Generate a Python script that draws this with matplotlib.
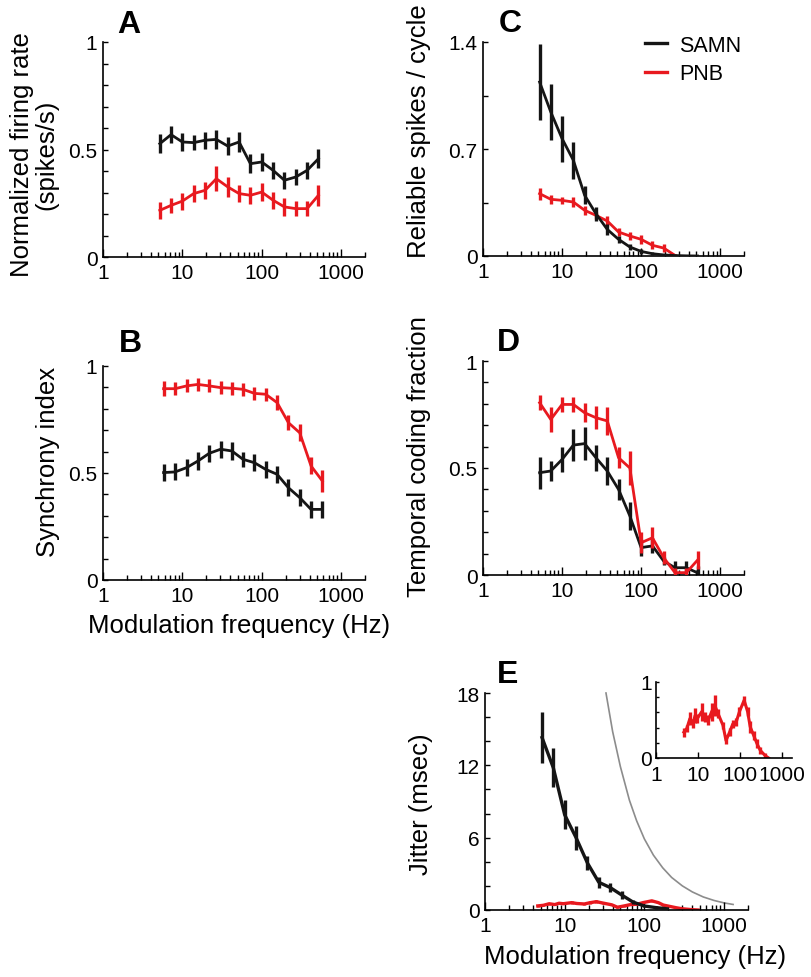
import matplotlib
matplotlib.use("Agg")
import matplotlib.pyplot as plt
import numpy as np
from matplotlib.ticker import FixedLocator, NullFormatter, LogLocator, FuncFormatter

plt.rcParams.update({"font.family": ["Liberation Sans", "DejaVu Sans"], "font.size": 15})

BLACK = "#151515"
RED = "#e8191f"
GRAY = "#8c8c8c"
nan = np.nan

# modulation frequencies (Hz)
freq = [5.2, 7.2, 10, 13.9, 19.3, 26.8, 37.3, 51.8, 72, 100, 139, 193, 268, 373, 518]
freq_b = [5.8, 8.1, 11.3, 15.7, 21.8, 30.3, 42, 58, 81, 112, 156, 217, 301, 418, 580]

# A: normalized firing rate
rate_samn = [0.527, 0.569, 0.535, 0.532, 0.543, 0.547, 0.516, 0.535, 0.434, 0.442, 0.403, 0.357, 0.372, 0.403, 0.457]
rate_samn_err = [0.043, 0.04, 0.04, 0.035, 0.04, 0.045, 0.04, 0.045, 0.045, 0.04, 0.04, 0.04, 0.035, 0.04, 0.045]
rate_pnb = [0.217, 0.240, 0.26, 0.295, 0.31, 0.364, 0.326, 0.295, 0.287, 0.302, 0.264, 0.233, 0.225, 0.225, 0.287]
rate_pnb_err = [0.04, 0.035, 0.04, 0.04, 0.04, 0.058, 0.045, 0.04, 0.04, 0.04, 0.04, 0.04, 0.035, 0.035, 0.05]

# B: synchrony index
sync_pnb = [0.894, 0.894, 0.907, 0.914, 0.907, 0.899, 0.896, 0.891, 0.872, 0.868, 0.829, 0.735, 0.688, 0.533, 0.463]
sync_pnb_err = [0.035, 0.03, 0.03, 0.03, 0.03, 0.03, 0.03, 0.03, 0.03, 0.03, 0.035, 0.035, 0.04, 0.04, 0.05]
sync_samn = [0.502, 0.505, 0.525, 0.556, 0.592, 0.611, 0.603, 0.564, 0.548, 0.517, 0.494, 0.431, 0.385, 0.330, 0.330]
sync_samn_err = [0.04, 0.04, 0.04, 0.04, 0.04, 0.04, 0.04, 0.035, 0.04, 0.04, 0.04, 0.04, 0.04, 0.04, 0.04]

# C: reliable spikes per cycle
rel_samn = [1.138, 0.942, 0.768, 0.626, 0.397, 0.277, 0.174, 0.109, 0.059, 0.03, 0.015, 0.007, 0.003, 0.001, 0.0]
rel_samn_err = [0.25, 0.185, 0.15, 0.12, 0.06, 0.045, 0.035, 0.025, 0.02, 0.015, 0.01, 0.005, 0, 0, 0]
rel_pnb = [0.408, 0.371, 0.364, 0.353, 0.299, 0.266, 0.229, 0.157, 0.131, 0.109, 0.07, 0.052, 0.004, nan, nan]
rel_pnb_err = [0.04, 0.03, 0.025, 0.03, 0.03, 0.025, 0.03, 0.025, 0.025, 0.03, 0.025, 0.025, 0.01, nan, nan]

# D: temporal coding fraction
tcf_pnb = [0.805, 0.727, 0.797, 0.797, 0.758, 0.735, 0.72, 0.548, 0.5, 0.151, 0.174, 0.081, 0.011, 0.011, 0.07]
tcf_pnb_err = [0.035, 0.058, 0.035, 0.035, 0.045, 0.055, 0.065, 0.05, 0.08, 0.05, 0.05, 0.03, 0.02, 0.02, 0.04]
tcf_samn = [0.478, 0.486, 0.54, 0.607, 0.614, 0.548, 0.486, 0.4, 0.276, 0.128, 0.136, 0.065, 0.034, 0.034, 0.01]
tcf_samn_err = [0.074, 0.045, 0.06, 0.074, 0.078, 0.06, 0.065, 0.05, 0.065, 0.04, 0.035, 0.02, 0.03, 0.03, 0.03]

# E: jitter (msec)
jit_samn = [14.3, 11.8, 7.9, 6.0, 3.9, 2.3, 1.86, 1.25, 0.66, 0.33, 0.2, 0.1, nan, nan, nan]
jit_samn_err = [2.1, 1.6, 1.2, 1.0, 0.6, 0.45, 0.35, 0.3, 0.2, 0.1, 0.1, 0.05, nan, nan, nan]
jit_freq_pnb = [4.6, 5.4, 6.4, 7.5, 8.5, 9.6, 12.2, 14.2, 17.6, 21, 25, 30, 39, 46, 56, 67, 80, 96,
                124, 150, 173, 208, 250, 300, 394, 473]
jit_pnb = [0.34, 0.39, 0.52, 0.45, 0.56, 0.52, 0.61, 0.54, 0.50, 0.61, 0.69, 0.58, 0.43, 0.23, 0.34,
           0.45, 0.47, 0.61, 0.76, 0.61, 0.41, 0.30, 0.19, 0.10, 0.03, 0.0]
jit_pnb_err = [0.06, 0.05, 0.09, 0.06, 0.1, 0.06, 0.12, 0.06, 0.06, 0.12, 0.14, 0.06, 0.05, 0.05, 0.05,
               0.05, 0.05, 0.06, 0.06, 0.06, 0.08, 0.06, 0.06, 0.05, 0.03, 0.0]
gray_f = [33, 40, 50, 65, 80, 100, 130, 170, 220, 300, 400, 550, 750, 1000, 1300]
gray_j = [18, 14.8, 11.9, 9.1, 7.4, 5.9, 4.55, 3.5, 2.7, 2.0, 1.5, 1.08, 0.79, 0.59, 0.46]

fig = plt.figure(figsize=(8.12, 9.78), dpi=100)


def px_axes(left, right, top, bottom):
    W, H = 812.0, 978.0
    return fig.add_axes([left / W, 1 - bottom / H, (right - left) / W, (bottom - top) / H])


def style(ax, ylim, yticks, ylabels, yminor, xmax=2000, fs=15):
    ax.set_xscale("log")
    ax.set_xlim(1, xmax)
    ax.set_ylim(*ylim)
    for s in ("top", "right"):
        ax.spines[s].set_visible(False)
    for s in ("left", "bottom"):
        ax.spines[s].set_linewidth(1.2)
    ax.xaxis.set_major_locator(FixedLocator([1, 10, 100, 1000]))
    ax.xaxis.set_major_formatter(FuncFormatter(lambda v, p: "%d" % round(v)))
    ax.xaxis.set_minor_locator(LogLocator(base=10, subs=np.arange(2, 10)))
    ax.xaxis.set_minor_formatter(NullFormatter())
    ax.set_yticks(yticks)
    ax.set_yticklabels(ylabels)
    ax.yaxis.set_minor_locator(FixedLocator(yminor))
    ax.tick_params(axis="both", which="both", direction="in", width=1.0, labelsize=fs, pad=4)
    ax.tick_params(axis="x", which="major", length=6)
    ax.tick_params(axis="x", which="minor", length=3.5)
    ax.tick_params(axis="y", which="both", length=3.5)


def eb(ax, x, y, e, color, z=2, lw=2.0):
    ax.errorbar(x, y, yerr=e, color=color, lw=lw, elinewidth=2.4, capsize=0, zorder=z)


tenths = [0.1, 0.2, 0.3, 0.4, 0.6, 0.7, 0.8, 0.9]

# A
axA = px_axes(103, 365, 43, 258)
style(axA, (0, 1), [0, 0.5, 1], ["0", "0.5", "1"], tenths)
eb(axA, freq, rate_samn, rate_samn_err, BLACK)
eb(axA, freq, rate_pnb, rate_pnb_err, RED)
axA.set_ylabel("Normalized firing rate\n(spikes/s)", fontsize=18.5, linespacing=1.0)
axA.yaxis.set_label_coords(-0.172, 0.48)

# B
axB = px_axes(103, 365, 367, 581)
style(axB, (0, 1), [0, 0.5, 1], ["0", "0.5", "1"], tenths)
eb(axB, freq_b, sync_samn, sync_samn_err, BLACK)
eb(axB, freq_b, sync_pnb, sync_pnb_err, RED)
axB.set_ylabel("Synchrony index", fontsize=18.5)
axB.yaxis.set_label_coords(-0.164, 0.556)
axB.set_xlabel("Modulation frequency (Hz)", fontsize=18.5)
axB.xaxis.set_label_coords(0.52, -0.155)

# C
axC = px_axes(483, 744, 43, 257)
style(axC, (0, 1.4), [0, 0.7, 1.4], ["0", "0.7", "1.4"], [0.35, 1.05])
eb(axC, freq, rel_pnb, rel_pnb_err, RED, z=2)
eb(axC, freq, rel_samn, rel_samn_err, BLACK, z=3)
axC.set_ylabel("Reliable spikes / cycle", fontsize=18.5)
axC.yaxis.set_label_coords(-0.199, 0.589)
hs = [plt.Line2D([], [], color=BLACK, lw=2.4), plt.Line2D([], [], color=RED, lw=2.4)]
axC.legend(hs, ["SAMN", "PNB"], loc="upper left", bbox_to_anchor=(0.62, 1.035), frameon=False,
           fontsize=15.5, handlelength=1.05, handletextpad=0.55, labelspacing=0.35,
           borderpad=0, borderaxespad=0)

# D
axD = px_axes(483, 744, 362, 576)
style(axD, (0, 1), [0, 0.5, 1], ["0", "0.5", "1"], tenths)
eb(axD, freq, tcf_samn, tcf_samn_err, BLACK)
eb(axD, freq, tcf_pnb, tcf_pnb_err, RED, z=3)
axD.set_ylabel("Temporal coding fraction", fontsize=18.5)
axD.yaxis.set_label_coords(-0.199, 0.556)

# E
axE = px_axes(485, 748, 694, 911)
style(axE, (0, 18), [0, 6, 12, 18], ["0", "6", "12", "18"], [2, 4, 8, 10, 14, 16])
axE.plot(gray_f, gray_j, color=GRAY, lw=1.2, zorder=1, clip_on=False)
eb(axE, jit_freq_pnb, jit_pnb, jit_pnb_err, RED, lw=2.4)
eb(axE, freq, jit_samn, jit_samn_err, BLACK, z=3, lw=2.4)
axE.set_ylabel("Jitter (msec)", fontsize=18.5)
axE.yaxis.set_label_coords(-0.198, 0.493)
axE.set_xlabel("Modulation frequency (Hz)", fontsize=18.5)
axE.xaxis.set_label_coords(0.57, -0.158)

# inset
axI = px_axes(656, 792, 683, 759)
style(axI, (0, 1), [0, 1], ["0", "1"], [0.2, 0.4, 0.6, 0.8], xmax=1700, fs=15)
axI.tick_params(axis="x", which="major", length=4, pad=5)
axI.tick_params(axis="x", which="minor", length=2.5)
axI.tick_params(axis="y", which="both", length=2.5, pad=3)
axI.patch.set_alpha(0)
eb(axI, jit_freq_pnb, jit_pnb, jit_pnb_err, RED, lw=2.2)

# panel letters
for letter, x, y in [("A", 129, 25), ("C", 510, 24), ("B", 130, 344), ("D", 508, 343), ("E", 508, 675)]:
    fig.text(x / 812, 1 - y / 978, letter, fontsize=23, fontweight="bold", ha="center", va="center")

fig.savefig("out.png", dpi=100)
